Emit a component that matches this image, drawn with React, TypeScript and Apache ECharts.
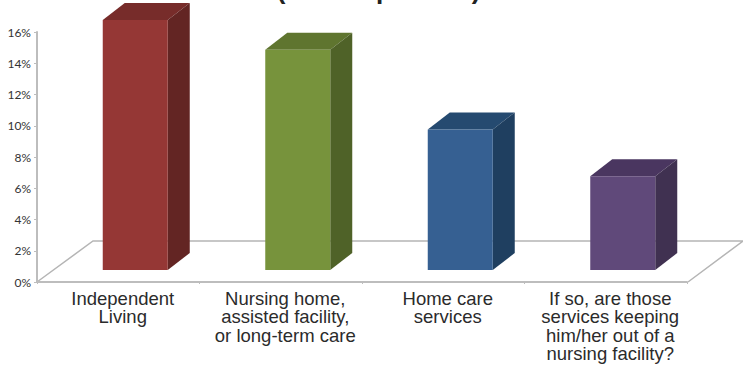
import React, { useEffect, useRef } from "react";
import * as echarts from "echarts";

const categories = [
  "Independent\nLiving",
  "Nursing home,\nassisted facility,\nor long-term care",
  "Home care\nservices",
  "If so, are those\nservices keeping\nhim/her out of a\nnursing facility?",
];
const shares = [16, 14.1, 9, 6];
const frontColors = ["#953735", "#77933c", "#366092", "#60497a"];
const topColors = ["#772c2a", "#5f752f", "#254a70", "#4a3660"];
const sideColors = ["#632523", "#4f6228", "#1f3f60", "#403151"];
const headingGlyphs = [
  { ch: "(", x: 281 },
  { ch: "p", x: 384 },
  { ch: ")", x: 476 },
];

const DEPTH_X = 22;
const DEPTH_Y = 17;
const SHIFT_X = 17;
const SHIFT_Y = -12;

// A cuboid column: front face from the value scale, with top and side faces receding to the right.
function renderColumn(params: any, api: any) {
  const i = api.value(0);
  const [cx, y0] = api.coord([i, 0]);
  const [, y1] = api.coord([i, api.value(1)]);
  const w = api.size([1, 0])[0] * 0.4;
  const l = cx + SHIFT_X - w / 2;
  const r = l + w;
  const b = y0 + SHIFT_Y;
  const t = y1 + SHIFT_Y;
  const poly = (points: number[][], fill: string) => ({
    type: "polygon",
    shape: { points },
    style: { fill },
  });
  return {
    type: "group",
    children: [
      poly([[l, t], [l + DEPTH_X, t - DEPTH_Y], [r + DEPTH_X, t - DEPTH_Y], [r, t]], topColors[i]),
      poly([[r, t], [r + DEPTH_X, t - DEPTH_Y], [r + DEPTH_X, b - DEPTH_Y], [r, b]], sideColors[i]),
      poly([[l, t], [r, t], [r, b], [l, b]], frontColors[i]),
    ],
  };
}

export default function App() {
  const ref = useRef<HTMLDivElement>(null);
  useEffect(() => {
    const chart = echarts.init(ref.current!, undefined, { renderer: "svg" });
    chart.setOption({
      animation: false,
      backgroundColor: "#ffffff",
      grid: { left: 37, right: 56, top: 32, bottom: 84 },
      xAxis: {
        type: "category",
        data: categories,
        axisLine: { lineStyle: { color: "#bdbdbd", width: 2 } },
        axisTick: { show: true, length: 2, lineStyle: { color: "#bdbdbd" } },
        axisLabel: {
          interval: 0,
          margin: 7,
          color: "#2b2b2b",
          fontFamily: "Liberation Sans",
          fontSize: 18.5,
          lineHeight: 18.5,
          padding: [0, 0, 0, 9],
        },
      },
      yAxis: {
        type: "value",
        min: 0,
        max: 16,
        interval: 2,
        splitLine: { show: false },
        axisLine: { show: true, lineStyle: { color: "#bdbdbd", width: 2 } },
        axisTick: { show: true, length: 3, lineStyle: { color: "#bdbdbd" } },
        axisLabel: {
          margin: 6,
          color: "#333333",
          fontFamily: "Lato",
          fontSize: 12,
          formatter: (v: number) => `${v}%`,
        },
      },
      graphic: [
        {
          type: "polyline",
          z: 0,
          shape: { points: [[37, 282], [93, 241], [743, 241], [688, 282]] },
          style: { fill: "none", stroke: "#b5b5b5", lineWidth: 1.5 },
        },
        // Descenders of the heading, which runs off the top edge of the page.
        ...headingGlyphs.map((g) => ({
          type: "text",
          x: g.x,
          y: 2.5,
          z: 5,
          style: {
            text: g.ch,
            fill: "#222222",
            font: "bold 26px 'Liberation Sans'",
            align: "center",
            verticalAlign: "bottom",
          },
        })),
      ],
      series: [
        {
          type: "custom",
          z: 3,
          renderItem: renderColumn,
          data: shares.map((v, i) => [i, v]),
          encode: { x: 0, y: 1 },
          clip: false,
        },
      ],
    });
    return () => chart.dispose();
  }, []);
  return (
    <div
      ref={ref}
      style={{ position: "fixed", left: 0, top: 0, width: 743, height: 366 }}
    />
  );
}
